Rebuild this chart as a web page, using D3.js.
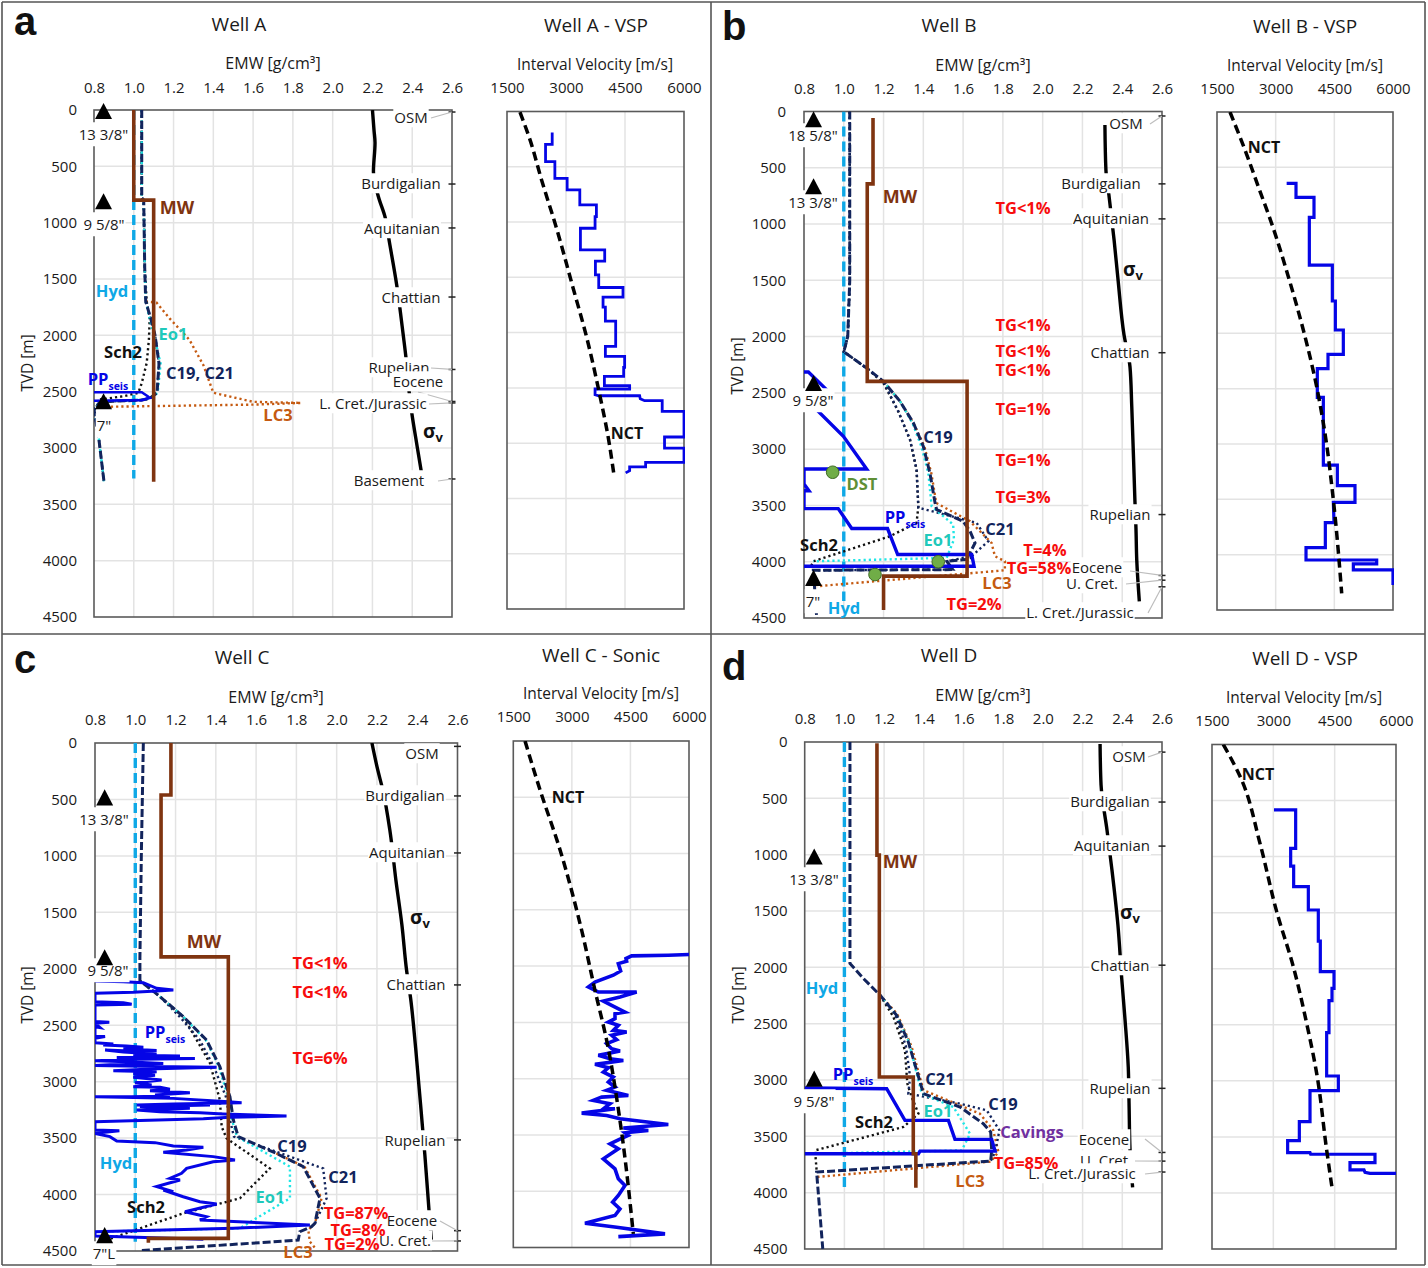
<!DOCTYPE html>
<html><head><meta charset="utf-8">
<script src="https://cdnjs.cloudflare.com/ajax/libs/d3/7.8.5/d3.min.js"></script>
<style>html,body{margin:0;padding:0;background:#fff}svg{display:block}</style></head><body>
<svg id="c" width="1428" height="1268"></svg>
<script>
// ---------- shared ticks
const emwTicks=[0.8,1.0,1.2,1.4,1.6,1.8,2.0,2.2,2.4,2.6];
const depthTicks=[0,500,1000,1500,2000,2500,3000,3500,4000,4500];
const velTicks=[1500,3000,4500,6000];

// ---------- Well A  [EMW g/cm3, TVD m]
const a_MW=[[1,0],[1,800],[1.1,800],[1.1,3300]];
const a_Hyd=[[1,0],[1,3270]];
const a_C19=[[1.04,0],[1.04,780],[1.05,800],[1.055,1400],[1.06,1700],[1.085,1850],[1.107,2000],[1.127,2250],[1.117,2510],[1.08,2560],[1.04,2575],[.83,2590],[.8,2660],[.824,2913],[.85,3295]];
const a_Eo1=[[1.04,0],[1.04,780],[1.05,800],[1.055,1400],[1.06,1700],[1.08,1850],[1.1,2000],[1.135,2250],[1.12,2510],[1.085,2560],[1.04,2570],[.83,2585],[.8,2660],[.824,2913],[.85,3295]];
const a_Sch2=[[1.04,0],[1.04,780],[1.05,800],[1.055,1400],[1.065,1700],[1.08,1860],[1.076,2040],[1.065,2245],[1.04,2424],[1.023,2510],[.95,2540],[.83,2570]];
const a_LC3=[[1.06,1700],[1.115,1710],[1.18,1850],[1.28,2040],[1.35,2265],[1.4,2510],[1.6,2590],[1.84,2600],[1.6,2615],[.82,2635]];
const a_PP=[[.8,2505],[1.04,2505],[1.07,2540],[1.08,2555],[1.04,2575],[.8,2580]];
const a_Sv=[[2.2,0],[2.208,180],[2.213,290],[2.205,548],[2.23,770],[2.263,947],[2.285,1170],[2.322,1553],[2.355,2000],[2.37,2220],[2.385,2510],[2.397,2678],[2.425,2988],[2.447,3225]];
const a_Formations=["OSM","Burdigalian","Aquitanian","Chattian","Rupelian","Eocene","L. Cret./Jurassic","Basement"];
const a_FormDepths=[18,657,1047,1660,2303,2587,2600,3275];
const a_Casing=['13 3/8"','9 5/8"','7"'];
const a_CasingDepths=[33,834,2609];
const a_Vsp=[[2649,191],[2649,297],[2480,297],[2480,453],[2717,453],[2717,604],[3029,604],[3029,709],[3351,709],[3351,845],[3773,845],[3773,950],[3739,950],[3739,1056],[3367,1056],[3367,1251],[3984,1251],[3984,1354],[3748,1354],[3748,1477],[3832,1477],[3832,1592],[4449,1592],[4449,1679],[3942,1679],[3942,1770],[4001,1770],[4001,1896],[4263,1896],[4263,2125],[4001,2125],[4001,2215],[4491,2215],[4491,2315],[4466,2315],[4466,2396],[3976,2396],[3976,2480],[4618,2480],[4618,2510],[3739,2510],[3739,2562],[3832,2571],[4872,2571],[4888,2598],[4998,2616],[5446,2616],[5446,2712],[6000,2712],[6000,2944],[5505,2944],[5505,3044],[6000,3044],[6000,3173],[5024,3173],[5024,3215],[4618,3215],[4618,3248],[4517,3269]];
const a_NCT=[[1830,5],[2086,257],[2379,619],[2759,1056],[3182,1598],[3520,2035],[3857,2562],[4069,2938],[4212,3269]];

// ---------- Well B
const b_MW=[[1.147,58],[1.147,643],[1.118,643],[1.118,2398],[1.62,2398],[1.62,4128],[1.2,4128],[1.2,4430]];
const b_Hyd=[[1,0],[1,4350]];
const b_C19=[[1.03,0],[1.03,1000],[1.03,1500],[1.02,2000],[1,2134],[1.115,2280],[1.199,2398],[1.283,2575],[1.35,2767],[1.4,2975],[1.433,3212],[1.459,3478],[1.467,3537],[1.6,3641],[1.635,3730],[1.66,3833],[1.635,3921],[1.642,3975],[1.517,3996],[1.55,4070],[.847,4076],[.864,4500]];
const b_C21=[[1.03,0],[1.03,1500],[1.02,2000],[1,2134],[1.115,2280],[1.199,2398],[1.274,2664],[1.333,2916],[1.366,3182],[1.375,3520],[1.668,3655],[1.727,3818],[1.643,3951],[1.517,3996],[1.55,4070],[.847,4076]];
const b_Eo1=[[1.199,2398],[1.283,2575],[1.345,2767],[1.39,2975],[1.425,3212],[1.442,3508],[1.55,3670],[1.554,3803],[1.517,3966],[.847,3996]];
const b_Sch2=[[1.03,0],[1.03,1500],[1.02,2000],[1,2134],[1.115,2280],[1.199,2412],[1.274,2664],[1.333,2916],[1.366,3182],[1.375,3508],[1.366,3655],[1.232,3774],[.847,3996],[.83,4060]];
const b_LC3=[[1.199,2398],[1.283,2575],[1.35,2767],[1.405,2975],[1.44,3212],[1.465,3478],[1.635,3641],[1.743,3833],[1.76,3951],[1.81,3996],[1.81,4076],[.864,4218]];
const b_PP=[[.8,2315],[.822,2315],[.93,2500],[.82,2590],[.855,2634],[.998,2886],[1.115,3176],[.8,3176],[.8,3310],[.825,3370],[.8,3370],[.8,3528],[.972,3528],[1.04,3705],[1.22,3705],[1.271,3936],[1.643,3936],[1.655,4040],[.8,4040]];
const b_Sv=[[2.313,120],[2.318,519],[2.333,741],[2.359,1140],[2.379,1495],[2.409,1984],[2.439,2268],[2.448,2622],[2.464,3466],[2.469,3697],[2.473,3981],[2.486,4353]];
const b_DST=[[.944,3205],[1.475,4000],[1.157,4114]];
const b_Formations=["OSM","Burdigalian","Aquitanian","Chattian","Rupelian","Eocene","U. Cret.","L. Cret./Jurassic"];
const b_FormDepths=[40,643,954,2143,3581,4122,4164,4223];
const b_Casing=['18 5/8"','13 3/8"','9 5/8"','7"'];
const b_CasingDepths=[93,688,2436,4167];
const b_Vsp=[[3281,645],[3520,645],[3520,771],[3980,771],[3980,952],[3861,952],[3861,1383],[4449,1383],[4449,1708],[4526,1708],[4526,1970],[4730,1970],[4730,2190],[4338,2190],[4338,2319],[4065,2319],[4065,2578],[4219,2578],[4219,3190],[4577,3190],[4577,3376],[5028,3376],[5028,3527],[4475,3527],[4492,3711],[4270,3711],[4270,3937],[3776,3937],[3776,4048],[5583,4048],[5583,4084],[4986,4084],[4986,4138],[6000,4138],[6000,4274]];
const b_NCT=[[1832,0],[2216,343],[2557,675],[2940,1051],[3324,1488],[3707,1970],[4048,2482],[4261,2904],[4475,3506],[4688,4349]];

// ---------- Well C
const c_MW=[[1.177,0],[1.177,460],[1.128,460],[1.128,1895],[1.462,1895],[1.462,4388],[1.065,4388],[1.065,4426]];
const c_Hyd=[[1,0],[1,4417]];
const c_C19=[[1.04,0],[1.035,500],[1.03,1000],[1.023,1900],[1.023,2105],[1.123,2247],[1.238,2424],[1.354,2631],[1.42,2867],[1.47,3133],[1.487,3339],[1.511,3487],[1.7,3635],[1.834,3753],[1.917,4033],[1.892,4255],[1.875,4284],[1.817,4329],[1.809,4403],[1.023,4497]];
const c_C21=[[1.023,2105],[1.123,2247],[1.22,2424],[1.32,2631],[1.39,2867],[1.45,3133],[1.47,3339],[1.49,3487],[1.933,3768],[1.95,4033],[1.892,4255]];
const c_Eo1=[[1.123,2247],[1.238,2424],[1.35,2631],[1.415,2867],[1.46,3133],[1.48,3339],[1.505,3487],[1.768,3753],[1.768,4033],[1.6,4211],[1.52,4299],[.808,4329]];
const c_Sch2=[[1.123,2247],[1.238,2424],[1.305,2631],[1.371,2837],[1.42,3162],[1.429,3399],[1.453,3502],[1.668,3768],[1.52,4033],[1.238,4166],[.858,4403]];
const c_LC3=[[1.7,3635],[1.84,3753],[1.925,4033],[1.892,4255],[1.859,4314],[1.867,4417],[1.9,4491]];
const c_PP=[[.8,2108],[.941,2114],[1.04,2123],[1.106,2173],[1.189,2188],[1.106,2197],[.99,2208],[.8,2217],[.8,2291],[.941,2300],[.982,2315],[.8,2321],[.8,2468],[.871,2474],[.8,2483],[.825,2521],[.8,2513],[.8,2601],[.85,2601],[.8,2616],[.8,2655],[.891,2667],[.841,2675],[.957,2684],[1.04,2696],[.941,2708],[1.106,2723],[.974,2729],[.85,2720],[.941,2737],[1.106,2755],[.99,2767],[1.222,2773],[.908,2785],[1.296,2794],[1.023,2802],[.8,2814],[.957,2823],[1.139,2838],[.874,2850],[.8,2856],[1.189,2867],[1.404,2873],[1.106,2885],[.891,2903],[1.106,2912],[.99,2932],[1.098,2944],[.99,2962],[1.131,2985],[.999,3009],[1.081,3030],[.99,3045],[1.123,3050],[1.172,3068],[1.073,3080],[1.271,3098],[1.098,3118],[1.172,3127],[.982,3133],[.8,3133],[1.189,3148],[1.462,3177],[1.528,3186],[1.189,3198],[1.007,3207],[1.371,3207],[1.023,3221],[1.271,3236],[1.007,3251],[1.123,3266],[1.321,3275],[1.437,3286],[1.751,3304],[1.47,3316],[1.338,3328],[.8,3354],[.8,3428],[.921,3434],[.8,3458],[.874,3487],[.908,3525],[1.098,3540],[1.189,3570],[1.338,3582],[1.255,3605],[1.139,3626],[1.387,3664],[1.495,3694],[1.387,3709],[1.255,3768],[1.23,3812],[1.172,3856],[1.222,3871],[1.106,3930],[1.189,3974],[1.139,3960],[1.238,4019],[1.321,4063],[1.404,4084],[1.247,4152],[1.354,4196],[1.321,4225],[1.867,4270],[1.487,4299],[.8,4329],[.8,4367],[1.338,4397]];
const c_Sv=[[2.175,0],[2.204,239],[2.229,416],[2.264,770],[2.294,1213],[2.324,1612],[2.347,2011],[2.367,2259],[2.393,2719],[2.426,3399],[2.438,3650],[2.459,4151],[2.47,4400]];
const c_Formations=["OSM","Burdigalian","Aquitanian","Chattian","Rupelian","Eocene","U. Cret."];
const c_FormDepths=[30,469,974,2143,3516,4320,4411];
const c_Casing=['13 3/8"','9 5/8"','7"L'];
const c_CasingDepths=[505,1922,4384];
const c_Sonic=[[6000,1897],[5470,1903],[4531,1909],[4386,1933],[4403,1957],[4190,1978],[4249,2043],[4061,2081],[3592,2141],[3422,2185],[3678,2230],[4660,2230],[4233,2274],[3806,2310],[4019,2348],[4361,2408],[4105,2423],[4105,2467],[3934,2497],[4190,2526],[4062,2571],[4403,2586],[4019,2615],[4147,2654],[3891,2689],[4019,2734],[4233,2755],[3678,2793],[3977,2823],[4318,2838],[3592,2873],[3934,2903],[3806,2941],[4062,2986],[3934,3030],[4105,3075],[3891,3104],[4446,3149],[3763,3164],[3550,3193],[3977,3223],[3806,3268],[4105,3268],[3251,3306],[3891,3327],[4233,3357],[5470,3407],[4318,3439],[4958,3460],[4360,3481],[4446,3504],[4190,3543],[3976,3579],[4190,3623],[3805,3712],[4104,3801],[4190,3890],[4360,3949],[4190,4038],[4044,4097],[4232,4157],[4104,4216],[3336,4284],[4147,4320],[5385,4379],[4190,4403]];
const c_NCT=[[1800,0],[2184,434],[2696,966],[3250,1681],[3592,2215],[3891,2659],[4232,3371],[4574,4379]];

// ---------- Well D
const d_MW=[[1.164,10],[1.164,1004],[1.176,1004],[1.176,2973],[1.347,2973],[1.347,3654],[1.36,3654],[1.36,3956]];
const d_Hyd=[[1,0],[1,3956]];
const d_C19=[[1.028,0],[1.028,1966],[1.096,2100],[1.18,2248],[1.263,2425],[1.322,2662],[1.364,2914],[1.398,3121],[1.583,3240],[1.7,3388],[1.737,3462],[1.742,3625],[1.737,3719],[.86,3817],[.891,4498]];
const d_C21=[[1.18,2248],[1.255,2411],[1.31,2700],[1.331,2973],[1.322,3121],[1.583,3210],[1.717,3269],[1.781,3447],[1.759,3639],[1.737,3719]];
const d_Eo1=[[1.18,2248],[1.263,2425],[1.325,2662],[1.36,2914],[1.39,3121],[1.549,3240],[1.633,3477],[1.591,3625],[.852,3654]];
const d_Sch2=[[1.18,2248],[1.247,2440],[1.305,2736],[1.317,3032],[1.339,3151],[1.373,3299],[1.297,3417],[.852,3625],[.86,3802]];
const d_LC3=[[1.18,2248],[1.265,2411],[1.338,2700],[1.398,3090],[1.583,3225],[1.683,3299],[1.75,3447],[1.776,3639],[1.737,3725],[.86,3861]];
const d_PP=[[.8,3071],[1.213,3077],[1.305,3358],[1.524,3358],[1.557,3527],[1.742,3527],[1.759,3631],[1.381,3631],[1.373,3654],[.8,3654]];
const d_Sv=[[2.288,18],[2.293,382],[2.323,782],[2.348,1137],[2.378,1626],[2.397,2097],[2.414,2470],[2.43,2885],[2.434,3207],[2.439,3625],[2.452,3953]];
const d_Formations=["OSM","Burdigalian","Aquitanian","Chattian","Rupelian","Eocene","U. Cret.","L. Cret./Jurassic"];
const d_FormDepths=[90,533,924,1981,3074,3643,3720,3817];
const d_Casing=['13 3/8"','9 5/8"'];
const d_CasingDepths=[1040,3012];
const d_Vsp=[[3016,584],[3546,584],[3546,926],[3424,926],[3424,1084],[3497,1084],[3497,1268],[3856,1268],[3856,1476],[4100,1476],[4100,1753],[4149,1753],[4149,2026],[4484,2026],[4484,2175],[4435,2175],[4435,2285],[4361,2285],[4361,2570],[4304,2570],[4304,2957],[4590,2957],[4590,3088],[3897,3088],[3897,3364],[3636,3364],[3636,3534],[3350,3534],[3350,3640],[3897,3640],[3913,3655],[5486,3655],[5486,3730],[4875,3730],[4875,3795],[5217,3795],[5242,3816],[5364,3825],[6000,3825]];
const d_NCT=[[1777,0],[2226,317],[2674,882],[3082,1491],[3489,1982],[3815,2487],[4060,2933],[4304,3617],[4443,3973]];

// ---------- styling
const FONT='"Open Sans",sans-serif';
const C={mw:"#7f3410",hyd:"#0fa8e6",pp:"#0505e6",navy:"#12245c",cyan:"#1fe6e6",teal:"#1fc9bb",lc3:"#c55a11",red:"#f70d0d",grid:"#e3e3e3",axis:"#5a5a5a",green:"#70ad47",dst:"#5f8f36",purple:"#7030a0"};
const svg=d3.select("#c");
const defs=svg.append("defs");
let clipN=0;
function clip(x0,x1,y0,y1){const id="cl"+(clipN++);defs.append("clipPath").attr("id",id).append("rect").attr("x",x0).attr("y",y0).attr("width",x1-x0).attr("height",y1-y0);return "url(#"+id+")";}

function label(g,str,cx,cy,o={}){
  const t=g.append("text").attr("x",cx).attr("y",cy).attr("dy",".35em").attr("text-anchor",o.anchor||"middle")
    .attr("font-family",FONT).attr("font-size",o.size||15).attr("font-weight",o.bold?700:400).attr("fill",o.color||"#1a1a1a").text(str);
  if(o.rotate!==undefined)t.attr("transform",`rotate(${o.rotate} ${cx} ${cy})`);
  if(o.bg){const b=t.node().getBBox(),py=o.py===undefined?0:o.py,px=o.px===undefined?1:o.px;
    const r=g.append("rect").attr("x",b.x-px).attr("y",b.y-py).attr("width",b.width+2*px).attr("height",b.height+2*py).attr("fill","#fff");
    g.node().insertBefore(r.node(),t.node());}
  return t;
}
function subLabel(g,main,sub,cx,cy,color,size,subSize,dy){
  const t=g.append("text").attr("x",cx).attr("y",cy).attr("dy",".35em").attr("text-anchor","middle").attr("font-family",FONT).attr("font-weight",700).attr("fill",color).attr("font-size",size);
  t.append("tspan").text(main);
  t.append("tspan").attr("font-size",subSize).attr("dy",dy).text(sub);
}
const titleSize=19;
function frameAndGrid(g,x,y,p,xTicks,xFmt,tickBase){
  const [x0,x1]=x.range(),[y0,y1]=y.range();
  g.append("g").selectAll("line").data(depthTicks.slice(1,-1)).join("line").attr("x1",x0).attr("x2",x1).attr("y1",d=>y(d)).attr("y2",d=>y(d)).attr("stroke",C.grid).attr("stroke-width",1.5);
  g.append("g").selectAll("line").data(xTicks.slice(1,-1)).join("line").attr("x1",d=>x(d)).attr("x2",d=>x(d)).attr("y1",y0).attr("y2",y1).attr("stroke",C.grid).attr("stroke-width",1.5);
  const ax=g.append("g").attr("transform",`translate(0,${y0})`).call(d3.axisTop(x).tickValues(xTicks).tickFormat(xFmt).tickSize(0).tickPadding(y0-tickBase));
  ax.select(".domain").remove();
  ax.selectAll("text").attr("font-family",FONT).attr("font-size",15).attr("fill","#1a1a1a");
}
function box(g,x,y){const [x0,x1]=x.range(),[y0,y1]=y.range();
  g.append("rect").attr("x",x0).attr("y",y0).attr("width",x1-x0).attr("height",y1-y0).attr("fill","none").attr("stroke",C.axis).attr("stroke-width",1.6);}
function path(g,x,y,data,color,w,dash,clipId,curve){
  const l=d3.line().x(d=>x(d[0])).y(d=>y(d[1]));
  if(curve)l.curve(curve);
  const p=g.append("path").attr("d",l(data)).attr("fill","none").attr("stroke",color).attr("stroke-width",w).attr("stroke-linejoin","miter");
  if(dash)p.attr("stroke-dasharray",dash);
  if(clipId)p.attr("clip-path",clipId);
  return p;
}
function drawEMW(o){
  const g=svg.append("g");
  const x=d3.scaleLinear().domain([0.8,2.6]).range([o.x0,o.x1]);
  const y=d3.scaleLinear().domain([0,4500]).range([o.y0,o.y1]);
  frameAndGrid(g,x,y,o,emwTicks,d3.format(".1f"),o.tickBase);
  const ay=g.append("g").attr("transform",`translate(${o.x0},0)`).call(d3.axisLeft(y).tickValues(depthTicks).tickFormat(d3.format("d")).tickSize(0).tickPadding(o.leftPad));
  ay.select(".domain").remove();
  ay.selectAll("text").attr("font-family",FONT).attr("font-size",15).attr("fill","#1a1a1a");
  box(g,x,y);
  const cl=clip(o.x0,o.x1+2,o.y0,o.y1);
  const dotted="2.2 3";
  path(g,x,y,o.hyd,C.hyd,3.4,"10 5",cl);
  path(g,x,y,o.lc3,C.lc3,2.4,dotted,cl);
  path(g,x,y,o.sch2,"#111",2.4,dotted,cl);
  path(g,x,y,o.c21,C.navy,2.4,dotted,cl);
  path(g,x,y,o.eo1,C.cyan,2.4,dotted,cl);
  path(g,x,y,o.c19,C.navy,3,"8 3",cl);
  path(g,x,y,o.pp,C.pp,o.ppW||3.4,null,cl);
  path(g,x,y,o.mw,C.mw,3.6,null,cl);
  path(g,x,y,o.sv,"#000",3.4,null,cl,d3.curveMonotoneY);
  // formation ticks
  g.append("g").selectAll("line").data(o.formDepths).join("line")
    .attr("x1",o.x1-3.5).attr("x2",o.x1+3.5).attr("y1",d=>y(d)).attr("y2",d=>y(d)).attr("stroke","#222").attr("stroke-width",1.5);
  // formation labels
  o.formations.forEach((f,i)=>{
    const L=o.formLabels[i];
    if(L[2]){ g.append("line").attr("x1",L[2]).attr("y1",L[1]+(L[3]||0)).attr("x2",o.x1).attr("y2",y(o.formDepths[i])).attr("stroke","#bdbdbd").attr("stroke-width",1.2); }
    label(g,f,L[0],L[1],{bg:true});
  });
  o.casing.forEach((f,i)=>label(g,f,o.casingLabels[i][0],o.casingLabels[i][1],{bg:true,py:2,px:1}));
  // casing shoes
  g.append("g").selectAll("path").data(o.casingDepths).join("path")
    .attr("d",d3.symbol(d3.symbolTriangle,125)).attr("transform",d=>`translate(${x(0.848)},${y(d)}) scale(1,1.1)`).attr("fill","#000");
  if(o.dst) g.append("g").selectAll("circle").data(o.dst).join("circle").attr("cx",d=>x(d[0])).attr("cy",d=>y(d[1])).attr("r",6.3).attr("fill",C.green).attr("stroke","#3f6b26").attr("stroke-width",1);
  label(g,"TVD [m]",o.tvd[0],o.tvd[1],{rotate:-90,size:15.5});
  label(g,"EMW [g/cm³]",o.emw[0],o.emw[1],{size:16});
  label(g,o.title,o.titlePos[0],o.titlePos[1],{size:titleSize});
  return g;
}
function drawVel(o){
  const g=svg.append("g");
  const x=d3.scaleLinear().domain([1500,6000]).range([o.x0,o.x1]);
  const y=d3.scaleLinear().domain([0,4500]).range([o.y0,o.y1]);
  frameAndGrid(g,x,y,o,velTicks,d3.format("d"),o.tickBase);
  box(g,x,y);
  const cl=clip(o.x0,o.x1+1,o.y0,o.y1);
  path(g,x,y,o.vel,C.pp,o.w||2.8,null,cl);
  path(g,x,y,o.nct,"#000",3.5,"9 5",cl,d3.curveMonotoneY);
  label(g,"Interval Velocity [m/s]",o.axisLabel[0],o.axisLabel[1],{size:15.5});
  label(g,o.title,o.titlePos[0],o.titlePos[1],{size:titleSize});
  label(g,"NCT",o.nctPos[0],o.nctPos[1],{bold:true,size:16,color:"#111"});
}
function annotate(g,list){list.forEach(a=>label(g,a[0],a[1],a[2],{bold:true,size:a[4]||16.5,color:a[3]}));}
function sigma(g,cx,cy){subLabel(g,"σ","v",cx,cy,"#111",19,13,4);}
function pp(g,cx,cy){subLabel(g,"PP","seis",cx,cy,C.pp,16.5,10.5,5);}

// ---------- panel frame
[[2,2,1425,2],[2,2,2,1265],[1425,2,1425,1265],[2,1265,1425,1265],[711,2,711,1265],[2,634,1425,634]].forEach(l=>
  svg.append("line").attr("x1",l[0]).attr("y1",l[1]).attr("x2",l[2]).attr("y2",l[3]).attr("stroke","#555").attr("stroke-width",1.6));
[["a",14,35],["b",722,40],["c",14,673],["d",722,680]].forEach(l=>
  svg.append("text").attr("x",l[1]).attr("y",l[2]).attr("font-family",'"Liberation Sans",Arial,sans-serif').attr("font-weight",700).attr("font-size",40).attr("fill","#111").text(l[0]));

// ---------- panel a
let g=drawEMW({x0:94,x1:452,y0:110,y1:617,tickBase:92.5,leftPad:17,title:"Well A",titlePos:[239,24],emw:[273,63],tvd:[28,363],
 mw:a_MW,hyd:a_Hyd,c19:a_C19,c21:a_C19,eo1:a_Eo1,sch2:a_Sch2,lc3:a_LC3,pp:a_PP,ppW:2.6,sv:a_Sv,
 formations:a_Formations,formDepths:a_FormDepths,
 formLabels:[[411,118,431,0],[401,184],[402,229],[411,298],[399,368,431,0],[418,382,418,10],[373,404,429,0],[389,481,438,0]],
 casing:a_Casing,casingDepths:a_CasingDepths,casingLabels:[[103.5,135],[104,225],[104,426]]});
annotate(g,[["MW",177,208,C.mw,18],["Hyd",112,291,C.hyd],["Eo1",173,334,C.teal],["Sch2",123,352,"#111"],["C19, C21",200,373,C.navy],["LC3",278,415,C.lc3]]);
pp(g,108,379);sigma(g,433,431);
drawVel({x0:507,x1:684,y0:111.5,y1:609,tickBase:93,title:"Well A - VSP",titlePos:[596,25],axisLabel:[595,65],vel:a_Vsp,nct:a_NCT,nctPos:[627,433]});

// ---------- panel b
g=drawEMW({x0:804,x1:1162,y0:111.5,y1:618,tickBase:93.5,leftPad:18,title:"Well B",titlePos:[949,25],emw:[983,65],tvd:[738,366],
 mw:b_MW,hyd:b_Hyd,c19:b_C19,c21:b_C21,eo1:b_Eo1,sch2:b_Sch2,lc3:b_LC3,pp:b_PP,sv:b_Sv,dst:b_DST,
 formations:b_Formations,formDepths:b_FormDepths,
 formLabels:[[1126,124,1150,0],[1101,184],[1111,219],[1120,353],[1120,515],[1097,568,1130,3],[1092,584,1126,0],[1080,613,1148,0]],
 casing:b_Casing,casingDepths:b_CasingDepths,casingLabels:[[813,136],[813,203],[813,401],[813,602]]});
annotate(g,[["MW",900,197,C.mw,18],["C19",938,437,C.navy],["DST",862,484,C.dst],["Eo1",938,540,C.teal],["C21",1000,529,C.navy],["Sch2",819,545,"#111"],["LC3",997,583,C.lc3],["Hyd",844,608,C.hyd],
 ["TG<1%",1023,208,C.red],["TG<1%",1023,325,C.red],["TG<1%",1023,351,C.red],["TG<1%",1023,370,C.red],["TG=1%",1023,409,C.red],["TG=1%",1023,460,C.red],["TG=3%",1023,497,C.red],["T=4%",1045,550,C.red],["TG=58%",1039,568,C.red],["TG=2%",974,604,C.red]]);
pp(g,905,517);sigma(g,1133,269);
drawVel({x0:1217,x1:1393,y0:112,y1:610,tickBase:94,title:"Well B - VSP",titlePos:[1305,26],axisLabel:[1305,66],vel:b_Vsp,nct:b_NCT,nctPos:[1264,147],w:3.2});

// ---------- panel c
g=drawEMW({x0:95,x1:457.5,y0:743,y1:1251,tickBase:724.5,leftPad:18,title:"Well C",titlePos:[242,657],emw:[276,697],tvd:[28,995],
 mw:c_MW,hyd:c_Hyd,c19:c_C19,c21:c_C21,eo1:c_Eo1,sch2:c_Sch2,lc3:c_LC3,pp:c_PP,ppW:3,sv:c_Sv,
 formations:c_Formations,formDepths:c_FormDepths,
 formLabels:[[422,754],[405,796],[407,853],[416,985],[415,1141],[412,1221,440,0],[405,1241,432,0]],
 casing:c_Casing,casingDepths:c_CasingDepths,casingLabels:[[104,820],[108,971],[104,1254]]});
annotate(g,[["MW",204,942,C.mw,18],["C19",292,1146,C.navy],["C21",343,1177,C.navy],["Hyd",116,1163,C.hyd],["Eo1",270,1197,C.teal],["Sch2",146,1207,"#111"],["LC3",298,1252,C.lc3],
 ["TG<1%",320,963,C.red],["TG<1%",320,992,C.red],["TG=6%",320,1058,C.red],["TG=87%",356,1213,C.red],["TG=8%",358,1230,C.red],["TG=2%",352,1244,C.red]]);
pp(g,165,1032);sigma(g,420,917);
drawVel({x0:513.3,x1:689,y0:741,y1:1247.5,tickBase:722,title:"Well C - Sonic",titlePos:[601,655],axisLabel:[601,694],vel:c_Sonic,nct:c_NCT,nctPos:[568,797],w:3.6});

// ---------- panel d
g=drawEMW({x0:804.7,x1:1162,y0:742,y1:1249,tickBase:724,leftPad:17,title:"Well D",titlePos:[949,655],emw:[983,695],tvd:[739,995],
 mw:d_MW,hyd:d_Hyd,c19:d_C19,c21:d_C21,eo1:d_Eo1,sch2:d_Sch2,lc3:d_LC3,pp:d_PP,sv:d_Sv,
 formations:d_Formations,formDepths:d_FormDepths,
 formLabels:[[1129,757,1148,0],[1110,802],[1112,846],[1120,966],[1120,1089],[1104,1140,1145,-1],[1106,1161,1135,0],[1082,1174,1145,0]],
 casing:d_Casing,casingDepths:d_CasingDepths,casingLabels:[[814,880],[814,1102]]});
annotate(g,[["MW",900,862,C.mw,18],["Hyd",822,988,C.hyd],["C21",940,1079,C.navy],["C19",1003,1104,C.navy],["Eo1",938,1111,C.teal],["Cavings",1032,1132,C.purple],["Sch2",874,1122,"#111"],["TG=85%",1026,1163,C.red],["LC3",970,1181,C.lc3]]);
pp(g,853,1074);sigma(g,1130,912);
drawVel({x0:1212,x1:1396,y0:744.5,y1:1249,tickBase:726,title:"Well D - VSP",titlePos:[1305,658],axisLabel:[1304,698],vel:d_Vsp,nct:d_NCT,nctPos:[1258,774],w:3.2});
</script></body></html>
